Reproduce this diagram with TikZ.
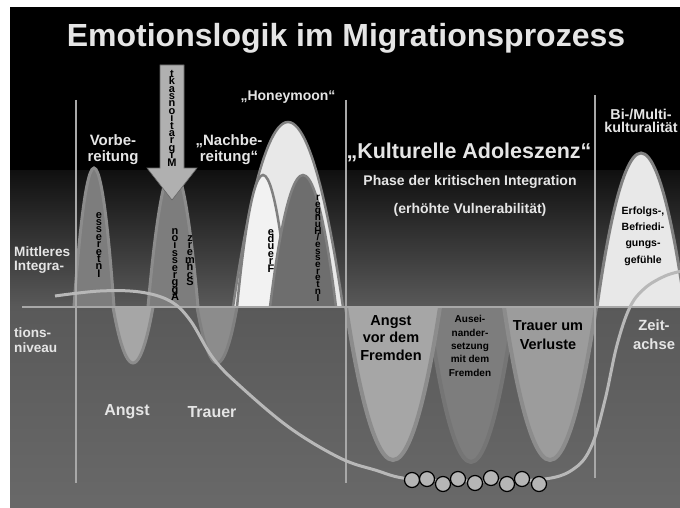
\documentclass[tikz,border=0pt]{standalone}
\usepackage{fontspec}
\setmainfont{Liberation Sans}
\usetikzlibrary{calc}

\newcommand{\tightstack}{\lineskiplimit=-20pt\relax}

\definecolor{bgmid}{gray}{0.35}
\definecolor{bglow}{gray}{0.41}
\definecolor{linegray}{gray}{0.66}
\definecolor{curvegray}{gray}{0.72}
\definecolor{peakfill}{gray}{0.49}
\definecolor{peakedge}{gray}{0.55}
\definecolor{valfill}{gray}{0.65}
\definecolor{valedge}{gray}{0.55}
\definecolor{trauerfill}{gray}{0.55}
\definecolor{trauersedge}{gray}{0.50}
\definecolor{auseinfill}{gray}{0.49}
\definecolor{auseinedge}{gray}{0.46}
\definecolor{verlustfill}{gray}{0.61}
\definecolor{honeyfill}{gray}{0.91}
\definecolor{whitepeak}{gray}{0.95}
\definecolor{rimgray}{gray}{0.50}
\definecolor{darkpeak}{gray}{0.43}
\definecolor{ballgray}{gray}{0.71}
\definecolor{arrowgray}{gray}{0.69}
\definecolor{lbltext}{gray}{0.90}

\tikzset{
  title/.style={text=lbltext, font=\bfseries\fontsize{32}{34}\selectfont, inner sep=0pt},
  lbl/.style={text=lbltext, font=\bfseries\fontsize{15}{16}\selectfont, align=center, inner sep=0pt},
  sidetxt/.style={text=lbltext, font=\bfseries\fontsize{13.6}{14.5}\selectfont, align=left, inner sep=0pt, anchor=west},
  subtxt/.style={text=lbltext, font=\bfseries\fontsize{14}{16}\selectfont, inner sep=0pt},
  blk/.style={text=black, font=\bfseries\fontsize{14.5}{17.5}\selectfont, align=center, inner sep=0pt},
  smalltxt/.style={text=black, font=\bfseries\fontsize{10}{13.3}\selectfont, align=center, inner sep=0pt},
  stacktxt/.style={text=black, font=\bfseries\fontsize{11}{7.4}\selectfont\tightstack, align=center, inner sep=0pt, anchor=north},
  vline/.style={draw=linegray, line width=2pt},
  hump/.style={line width=3pt}
}

\begin{document}
\begin{tikzpicture}[x=1pt,y=-1pt]
\useasboundingbox (0,0) rectangle (680,508);
\fill[white] (0,0) rectangle (680,508);
\fill[black] (10,7) rectangle (680,170);
\shade[top color=black!94, bottom color=bgmid] (10,170) rectangle (680,307);
\shade[top color=bgmid, bottom color=bglow] (10,307) rectangle (680,508);

\begin{scope}
\clip (10,7) rectangle (680,508);
\filldraw[hump, fill=peakfill, draw=peakedge] (74,307) parabola bend (94,168) (114,307);
\filldraw[hump, fill=peakfill, draw=peakedge] (148,307) parabola bend (173,168) (198,307);
\filldraw[hump, fill=valfill, draw=valedge] (113,307) parabola bend (133,363) (153,307);
\filldraw[hump, fill=trauerfill, draw=trauersedge] (197,307) parabola bend (217,363) (237,307);

\filldraw[line width=2.5pt, fill=honeyfill, draw=rimgray] (233,307) parabola bend (288,122) (343,307);
\filldraw[line width=2.5pt, fill=whitepeak, draw=rimgray] (237,307) parabola bend (263,175) (289,307);
\filldraw[line width=2.5pt, fill=darkpeak, draw=rimgray] (270,307) parabola bend (303,175) (336,307);

\filldraw[line width=4pt, fill=auseinfill, draw=auseinedge] (428,307) parabola bend (471,462) (514,307);
\filldraw[line width=4pt, fill=valfill, draw=valedge] (346,307) parabola bend (393,460) (440,307);
\filldraw[line width=4pt, fill=verlustfill, draw=valedge] (504,307) parabola bend (550,460) (596,307);

\filldraw[hump, fill=honeyfill, draw=rimgray] (597,307) parabola bend (641,153) (685,307);
\end{scope}

\draw[vline] (76,100) -- (76,483);
\draw[vline] (346,100) -- (346,483);
\draw[vline] (595,95) -- (595,478);
\draw[line width=2.5pt, draw=linegray] (22,307) -- (680,307);

\draw[line width=3pt, draw=curvegray] plot[smooth, tension=0.6] coordinates {(55,296) (100,291) (140,292) (170,301) (190,320) (213,358) (240,386) (290,428) (340,458) (375,470) (410,479) (480,481) (545,479) (575,468) (592,445) (605,400) (617,345) (630,307) (645,288) (665,276) (682,271)};

\foreach \cx/\cy in {412/480, 427/479, 443/484, 458/479, 475/483, 491/478, 507/484, 522/479, 539/484}
  \filldraw[fill=ballgray, draw=black, line width=1.2pt] (\cx,\cy) circle (7.5pt);

\filldraw[fill=arrowgray, draw=black!60, line width=0.6pt] (160,65) -- (184,65) -- (184,168) -- (197,168) -- (172,200) -- (147,168) -- (160,168) -- cycle;

\node[stacktxt] (mig) at (172,70) {t\\k\\a\\s\\n\\o\\i\\t\\a\\r\\g\\i\\M};
\node[stacktxt] (inter) at (99,212) {e\\s\\s\\e\\r\\e\\t\\n\\I};
\node[stacktxt] (aggr) at (175,228) {n\\o\\i\\s\\s\\e\\r\\g\\g\\A};
\node[stacktxt] (schm) at (190,235) {z\\r\\e\\m\\h\\c\\S};
\node[stacktxt] (freu) at (271,229) {e\\d\\u\\e\\r\\F};
\node[stacktxt, font=\bfseries\fontsize{10}{6.7}\selectfont\tightstack] (hung) at (318,195) {r\\e\\g\\n\\u\\H\\/\\e\\s\\s\\e\\r\\e\\t\\n\\I};

\node[title] (ttl) at (346,38) {Emotionslogik im Migrationsprozess};
\node[lbl] (vorb) at (113,150) {Vorbe-\\reitung};
\node[lbl] (nachb) at (229,150) {„Nachbe-\\reitung“};
\node[lbl, font=\bfseries\fontsize{14}{16}\selectfont] (honey) at (288,97) {„Honeymoon“};
\node[lbl, font=\bfseries\fontsize{21.5}{24}\selectfont] (kult) at (469,152) {„Kulturelle Adoleszenz“};
\node[subtxt] (phase) at (470,182) {Phase der kritischen Integration};
\node[subtxt] (vuln) at (470,210) {(erhöhte Vulnerabilität)};
\node[lbl, font=\bfseries\fontsize{14.3}{13.5}\selectfont] (bimulti) at (641,121) {Bi-/Multi-\\kulturalität};
\node[smalltxt, font=\bfseries\fontsize{10.5}{16.3}\selectfont] (erfolg) at (643,236) {Erfolgs-,\\Befriedi-\\gungs-\\gefühle};
\node[sidetxt] (mittl) at (14,260) {Mittleres\\Integra-};
\node[sidetxt] (tions) at (14,340) {tions-\\niveau};
\node[lbl, font=\bfseries\fontsize{16}{18}\selectfont] (angst) at (127,412) {Angst};
\node[lbl, font=\bfseries\fontsize{16}{18}\selectfont] (trauer) at (212,412) {Trauer};
\node[blk] (angstfr) at (391,338) {Angst\\vor dem\\Fremden};
\node[smalltxt] (ausein) at (470,346) {Ausei-\\nander-\\setzung\\mit dem\\Fremden};
\node[blk, font=\bfseries\fontsize{14.5}{19}\selectfont] (trauerv) at (548,335) {Trauer um\\Verluste};
\node[lbl, font=\bfseries\fontsize{14.8}{19}\selectfont] (zeit) at (654,335) {Zeit-\\achse};
\end{tikzpicture}
\end{document}
